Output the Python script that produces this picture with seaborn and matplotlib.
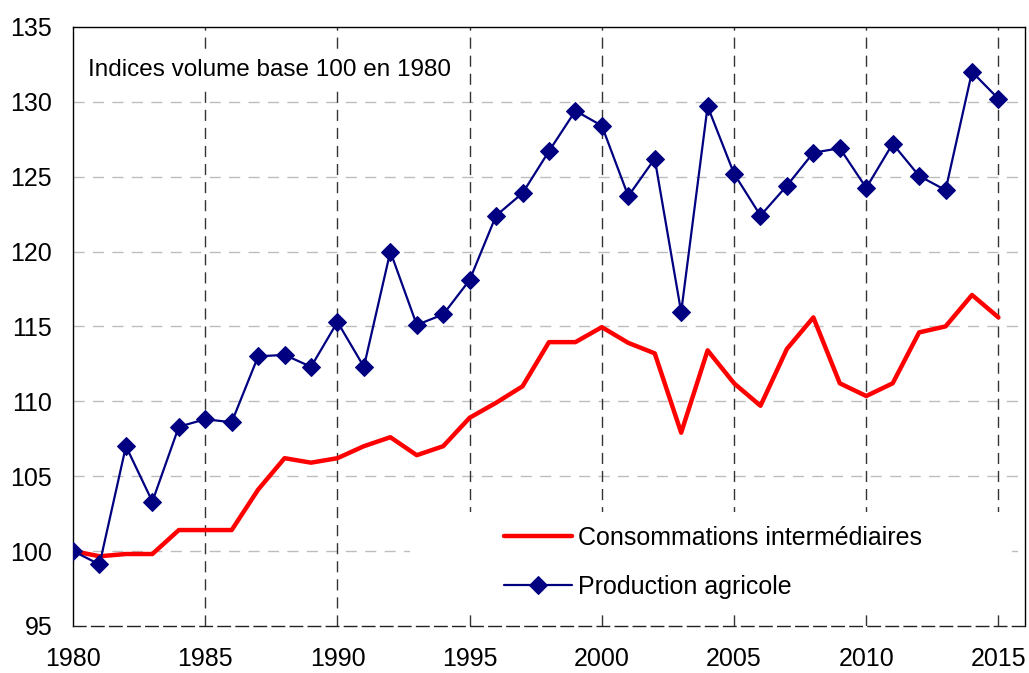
import numpy as np
import pandas as pd
import matplotlib
matplotlib.use("Agg")
import matplotlib.pyplot as plt
from matplotlib.patches import Rectangle
import seaborn as sns

# Données (indices base 100 en 1980)
annees = list(range(1980, 2016))
conso_inter = [100.0, 99.65, 99.8, 99.8, 101.4, 101.4, 101.4, 104.1, 106.2, 105.9,
               106.2, 107.0, 107.6, 106.4, 107.0, 108.9, 109.9, 111.0, 113.95, 113.95,
               114.95, 113.9, 113.2, 107.9, 113.4, 111.2, 109.7, 113.5, 115.6, 111.2,
               110.35, 111.2, 114.6, 115.0, 117.1, 115.6]
prod_agricole = [100.0, 99.1, 107.0, 103.3, 108.3, 108.8, 108.6, 113.0, 113.1, 112.3,
                 115.3, 112.3, 120.0, 115.1, 115.8, 118.1, 122.4, 123.9, 126.7, 129.4,
                 128.4, 123.7, 126.2, 115.95, 129.7, 125.2, 122.4, 124.4, 126.6, 126.9,
                 124.25, 127.2, 125.05, 124.1, 132.0, 130.2]

x_ticks = list(range(1980, 2016, 5))
y_ticks = list(range(95, 136, 5))

df = pd.DataFrame({"annee": annees,
                   "Consommations intermédiaires": conso_inter,
                   "Production agricole": prod_agricole})

sns.set_style("white")
plt.rcParams['font.family'] = ['Liberation Sans', 'DejaVu Sans']
plt.rcParams['text.color'] = 'black'

fig = plt.figure(figsize=(10.29, 6.73), dpi=100)
ax = fig.add_axes([0.071, 0.070, 0.925, 0.890])

# grilles
for yv in y_ticks[1:-1]:
    ax.axhline(yv, color='#bdbdbd', lw=1, ls=(0, (8, 6)), zorder=1)
for xv in x_ticks[1:]:
    ax.axvline(xv, color='#333333', lw=1, ls=(0, (8, 5)), zorder=1)

# fond blanc de la légende
ax.add_patch(Rectangle((0.354, 0.022), 0.632, 0.168, transform=ax.transAxes,
                       facecolor='white', edgecolor='none', zorder=2))

sns.lineplot(data=df, x="annee", y="Consommations intermédiaires", ax=ax,
             color='#ff0000', lw=3.2, label="Consommations intermédiaires", zorder=3)
sns.lineplot(data=df, x="annee", y="Production agricole", ax=ax,
             color='#000080', lw=1.6, marker='D', markersize=9.5,
             markeredgecolor='#000080', label="Production agricole", zorder=4)

ax.set_xlim(1980, 2016)
ax.set_ylim(95, 135)
ax.set_xticks(x_ticks)
ax.set_yticks(y_ticks)
ax.set_xlabel("")
ax.set_ylabel("")
ax.tick_params(axis='both', direction='out', length=6, width=1, colors='black',
               labelsize=18, pad=9)
for sp in ax.spines.values():
    sp.set_color('black')
    sp.set_linewidth(1)
ax.spines['bottom'].set_linestyle((0, (9, 4)))
ax.spines['bottom'].set_color('#222222')

ax.text(0.016, 0.928, "Indices volume base 100 en 1980", transform=ax.transAxes,
        fontsize=17.5, va='center', ha='left', zorder=5, color='black',
        bbox=dict(facecolor='white', edgecolor='none', pad=3))

leg = ax.legend(loc='center left', bbox_to_anchor=(0.440, 0.106), frameon=False,
                fontsize=18, handlelength=2.7, handletextpad=0.25, labelspacing=1.0,
                borderpad=0)

fig.savefig("out.png", dpi=100)
